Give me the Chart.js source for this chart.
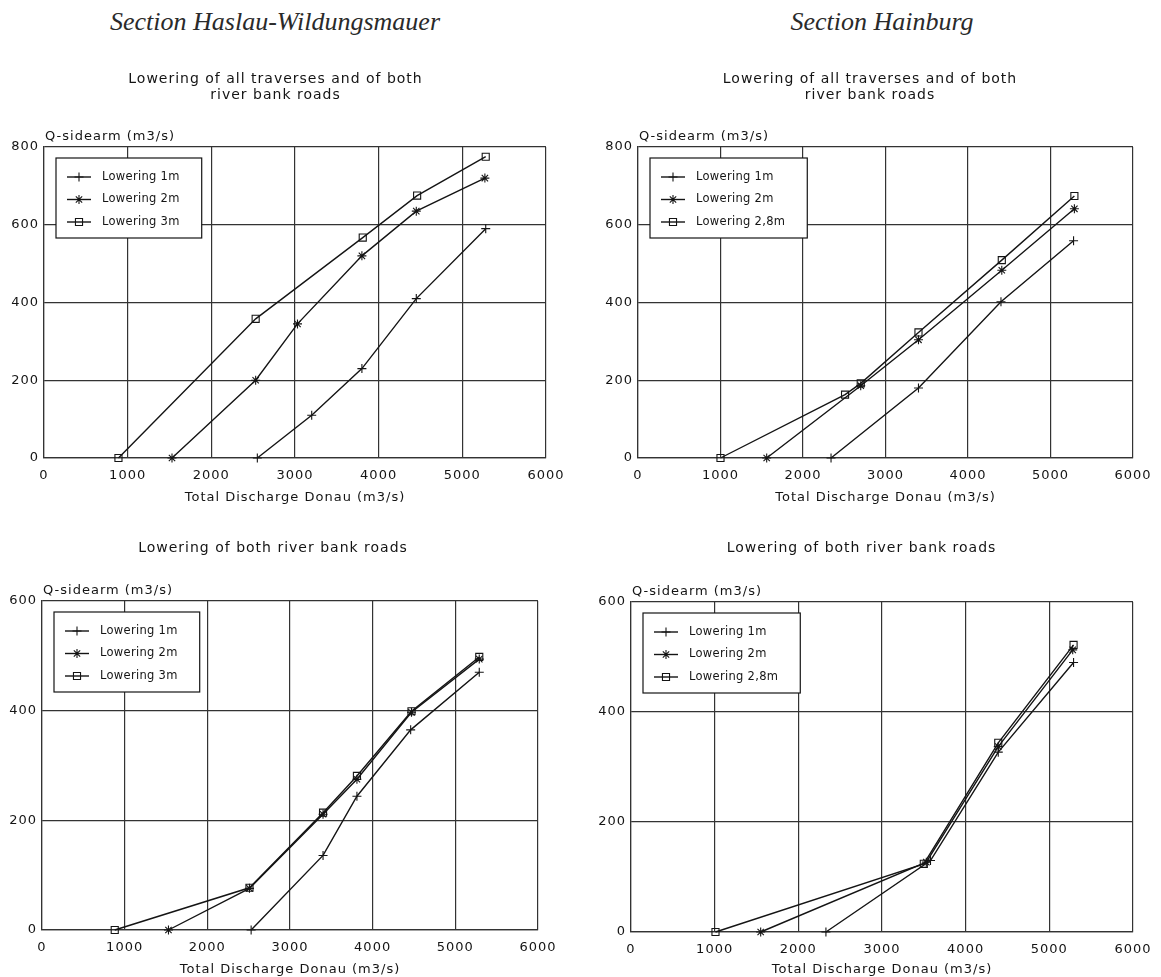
<!DOCTYPE html>
<html>
<head>
<meta charset="utf-8">
<title>Q-sidearm against total discharge Donau</title>
<script src="https://cdn.jsdelivr.net/npm/chart.js@4.4.1/dist/chart.umd.min.js"></script>
<style>
  html, body { margin: 0; padding: 0; background: #fff; overflow: hidden; }
  #page { position: relative; width: 1161px; height: 977px; }
  .section {
    position: absolute; top: 7px;
    font: italic 26px/30px "Liberation Serif", serif;
    color: #2a2a2a; white-space: nowrap;
    transform: translateX(-50%);
  }
  canvas { position: absolute; }
</style>
</head>
<body>
<div id="page">
  <div class="section" style="left:275px">Section Haslau-Wildungsmauer</div>
  <div class="section" style="left:882px">Section Hainburg</div>
  <canvas id="chartTL"></canvas>
  <canvas id="chartTR"></canvas>
  <canvas id="chartBL"></canvas>
  <canvas id="chartBR"></canvas>
</div>
<script>
// x = total discharge Donau (m3/s), y = Q-sidearm (m3/s)

// Haslau-Wildungsmauer, lowering of all traverses and both river bank roads
var hasAll1mX = [2550, 3200, 3800, 4450, 5280];
var hasAll1mY = [0, 110, 230, 410, 590];
var hasAll2mX = [1530, 2530, 3030, 3800, 4450, 5270];
var hasAll2mY = [0, 200, 345, 520, 635, 720];
var hasAll3mX = [890, 2530, 3810, 4460, 5280];
var hasAll3mY = [0, 358, 567, 675, 775];

// Hainburg, lowering of all traverses and both river bank roads
var haiAll1mX = [2340, 3400, 4400, 5280];
var haiAll1mY = [0, 180, 402, 559];
var haiAll2mX = [1560, 2700, 3400, 4410, 5290];
var haiAll2mY = [0, 186, 304, 483, 641];
var haiAll28mX = [1000, 2510, 2700, 3400, 4410, 5290];
var haiAll28mY = [0, 163, 192, 323, 509, 674];

// Haslau-Wildungsmauer, lowering of both river bank roads
var hasBank1mX = [2530, 3400, 3810, 4460, 5290];
var hasBank1mY = [0, 136, 244, 365, 470];
var hasBank2mX = [1530, 2510, 3400, 3810, 4470, 5290];
var hasBank2mY = [0, 76, 211, 275, 397, 494];
var hasBank3mX = [880, 2510, 3400, 3810, 4470, 5290];
var hasBank3mY = [0, 77, 214, 281, 399, 498];

// Hainburg, lowering of both river bank roads
var haiBank1mX = [2330, 3580, 4390, 5290];
var haiBank1mY = [0, 130, 327, 490];
var haiBank2mX = [1550, 3530, 4390, 5280];
var haiBank2mY = [0, 127, 337, 513];
var haiBank28mX = [1010, 3500, 4390, 5290];
var haiBank28mY = [0, 124, 344, 522];

var xTicks = [0, 1000, 2000, 3000, 4000, 5000, 6000];
var yTicksTop = [0, 200, 400, 600, 800];
var yTicksBottom = [0, 200, 400, 600];

var labels3m = ['Lowering 1m', 'Lowering 2m', 'Lowering 3m'];
var labels28m = ['Lowering 1m', 'Lowering 2m', 'Lowering 2,8m'];
var titleAll = ['Lowering of all traverses and of both', 'river bank roads'];
var titleBank = ['Lowering of both river bank roads'];
var yTitle = 'Q-sidearm (m3/s)';
var xTitle = 'Total Discharge Donau (m3/s)';

var ink = '#141414';
var gridInk = '#333';
var markers = ['cross', 'star', 'rect'];
var markerSize = [4.5, 4.5, 5];
var fontFamily = '"DejaVu Sans", sans-serif';

// page layout of each panel: canvas box and wanted chart area (page px)
var panels = [
  { id: 'chartTL', box: {x: 0, y: 60, w: 574, h: 460}, area: {l: 44, t: 147, r: 551, b: 458},
    titleY: 79, title: titleAll, yTicks: yTicksTop, labels: labels3m,
    series: [[hasAll1mX, hasAll1mY], [hasAll2mX, hasAll2mY], [hasAll3mX, hasAll3mY]] },
  { id: 'chartTR', box: {x: 599, y: 60, w: 562, h: 460}, area: {l: 638, t: 147, r: 1141, b: 458},
    titleY: 79, title: titleAll, yTicks: yTicksTop, labels: labels28m,
    series: [[haiAll1mX, haiAll1mY], [haiAll2mX, haiAll2mY], [haiAll28mX, haiAll28mY]] },
  { id: 'chartBL', box: {x: 0, y: 520, w: 566, h: 457}, area: {l: 42, t: 601, r: 546, b: 930},
    titleY: 548, title: titleBank, yTicks: yTicksBottom, labels: labels3m,
    series: [[hasBank1mX, hasBank1mY], [hasBank2mX, hasBank2mY], [hasBank3mX, hasBank3mY]] },
  { id: 'chartBR', box: {x: 587, y: 520, w: 574, h: 457}, area: {l: 631, t: 602, r: 1136, b: 932},
    titleY: 548, title: titleBank, yTicks: yTicksBottom, labels: labels28m,
    series: [[haiBank1mX, haiBank1mY], [haiBank2mX, haiBank2mY], [haiBank28mX, haiBank28mY]] }
];

// the plotter font on the original is spaced out, canvas state gets reset on resize
Chart.register({
  id: 'spacing',
  beforeUpdate: function(chart) { chart.ctx.letterSpacing = '1px'; },
  beforeDraw: function(chart) { chart.ctx.letterSpacing = '1px'; }
});

function points(xs, ys) {
  return xs.map(function(x, i) { return {x: x, y: ys[i]}; });
}

// boxed legend in the upper left corner plus the horizontal y title
function extrasPlugin(labels) {
  return {
    id: 'extras',
    afterDraw: function(chart) {
      var ctx = chart.ctx, a = chart.chartArea;
      ctx.save();
      ctx.letterSpacing = '1px';

      ctx.font = '13px ' + fontFamily;
      ctx.fillStyle = ink;
      ctx.textAlign = 'left';
      ctx.textBaseline = 'middle';
      ctx.fillText(yTitle, a.left + 1, a.top - 10);

      ctx.font = '11.5px ' + fontFamily;
      ctx.letterSpacing = '0.3px';
      var textW = Math.max.apply(null, labels.map(function(l) { return ctx.measureText(l).width; }));
      var x0 = a.left + 12, y0 = a.top + 11, w = 46 + textW + 22, h = 80;
      ctx.fillStyle = '#fff';
      ctx.fillRect(x0, y0, w, h);
      ctx.strokeStyle = ink;
      ctx.lineWidth = 1.2;
      ctx.strokeRect(x0, y0, w, h);

      labels.forEach(function(label, i) {
        var ry = y0 + 19 + i * 22.5;
        ctx.strokeStyle = ink;
        ctx.lineWidth = 1.4;
        ctx.beginPath();
        ctx.moveTo(x0 + 11, ry);
        ctx.lineTo(x0 + 35, ry);
        ctx.stroke();
        ctx.fillStyle = 'rgba(0,0,0,0)';
        ctx.lineWidth = 1.1;
        Chart.helpers.drawPoint(ctx, {pointStyle: markers[i], radius: markerSize[i], borderWidth: 1.1, rotation: 0}, x0 + 23, ry);
        ctx.fillStyle = ink;
        ctx.fillText(label, x0 + 46, ry);
      });
      ctx.restore();
    }
  };
}

function makePanel(p) {
  var canvas = document.getElementById(p.id);
  canvas.width = p.box.w;
  canvas.height = p.box.h;
  canvas.style.left = p.box.x + 'px';
  canvas.style.top = p.box.y + 'px';

  var yW = p.area.l - p.box.x;
  var padR = p.box.x + p.box.w - p.area.r;
  var xH = Math.min(52, p.box.y + p.box.h - p.area.b);
  var padB = p.box.y + p.box.h - p.area.b - xH;
  var titleTop = p.titleY - p.box.y - 8.4;
  var titleBottom = p.area.t - p.box.y - titleTop - p.title.length * 16.8;
  var yTicks = p.yTicks;

  var datasets = p.series.map(function(s, i) {
    return {
      label: p.labels[i],
      data: points(s[0], s[1]),
      showLine: true,
      borderColor: ink,
      borderWidth: 1.4,
      pointStyle: markers[i],
      pointRadius: markerSize[i],
      pointBorderColor: ink,
      pointBackgroundColor: 'rgba(0,0,0,0)',
      pointBorderWidth: 1.1,
      clip: false
    };
  });

  new Chart(canvas, {
    type: 'scatter',
    data: {datasets: datasets},
    options: {
      responsive: false,
      animation: false,
      layout: {padding: {left: 0, top: 0, right: padR, bottom: padB}},
      plugins: {
        legend: {display: false},
        tooltip: {enabled: false},
        title: {
          display: true,
          text: p.title,
          color: ink,
          font: {family: fontFamily, size: 14, weight: 'normal', lineHeight: 1.2},
          padding: {top: titleTop, bottom: titleBottom}
        }
      },
      scales: {
        x: {
          type: 'linear',
          min: 0,
          max: 6000,
          afterBuildTicks: function(axis) { axis.ticks = xTicks.map(function(v) { return {value: v}; }); },
          afterFit: function(axis) { axis.height = xH; },
          grid: {color: gridInk, lineWidth: 1.2, drawTicks: false},
          border: {display: true, color: gridInk, width: 1.2},
          ticks: {
            color: ink, padding: 9.5, maxRotation: 0, autoSkip: false,
            font: {family: fontFamily, size: 13},
            callback: function(v) { return String(v); }
          },
          title: {
            display: true, text: xTitle, color: ink,
            font: {family: fontFamily, size: 13},
            padding: {top: 0, bottom: Math.max(0, xH - 47.8)}
          }
        },
        y: {
          type: 'linear',
          min: 0,
          max: yTicks[yTicks.length - 1],
          afterBuildTicks: function(axis) { axis.ticks = yTicks.map(function(v) { return {value: v}; }); },
          afterFit: function(axis) { axis.width = yW; },
          grid: {color: gridInk, lineWidth: 1.2, drawTicks: false},
          border: {display: true, color: gridInk, width: 1.2},
          ticks: {
            color: ink, padding: 5,
            font: {family: fontFamily, size: 13},
            callback: function(v) { return String(v); }
          }
        }
      }
    },
    plugins: [extrasPlugin(p.labels)]
  });
}

panels.forEach(makePanel);
</script>
</body>
</html>
